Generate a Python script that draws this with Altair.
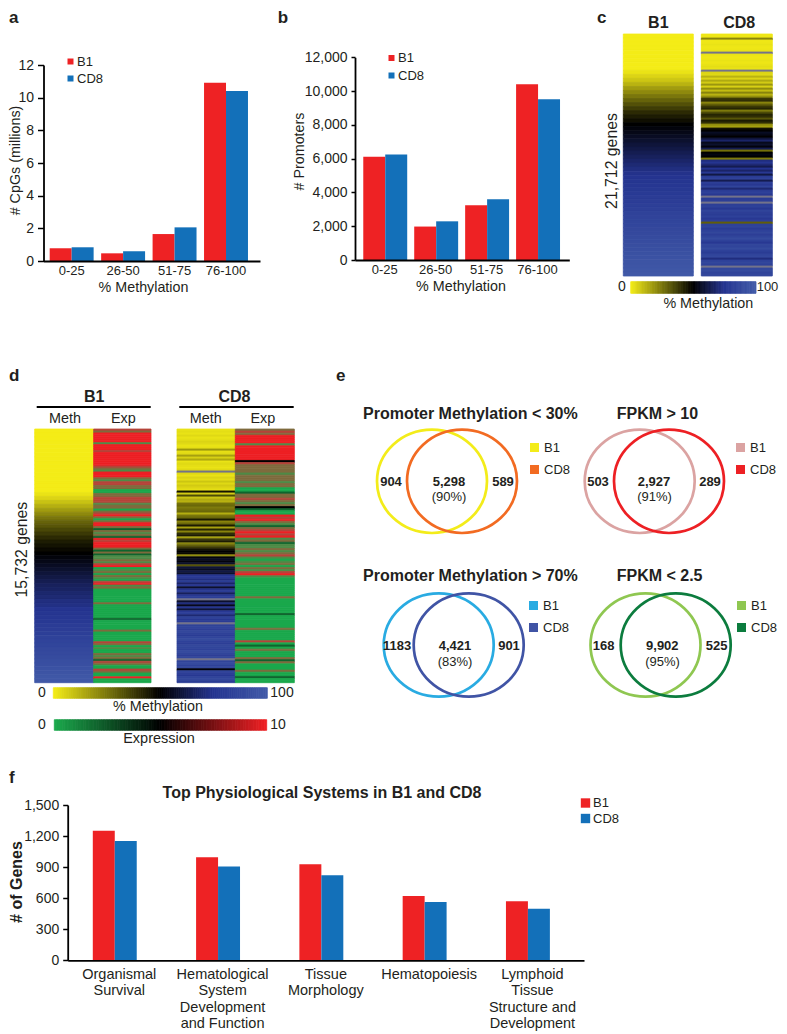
import altair as alt
import pandas as pd

W, H = 771, 1026
FONT = "Liberation Sans"
INK = "#231F20"
RED, BLUE = "#EE2224", "#1370B9"

# ---- panel a / b / f values
RANGES = ["0-25", "26-50", "51-75", "76-100"]
A_B1 = [0.78, 0.47, 1.65, 10.92]
A_CD8 = [0.84, 0.59, 2.06, 10.41]
B_B1 = [6107, 1980, 3240, 10400]
B_CD8 = [6250, 2290, 3590, 9520]
SYSTEMS = ["Organismal|Survival", "Hematological|System|Development|and Function",
           "Tissue|Morphology", "Hematopoiesis", "Lymphoid|Tissue|Structure and|Development"]
F_B1 = [1252, 995, 927, 621, 570]
F_CD8 = [1153, 905, 821, 563, 499]

# ---- heat strips (one value per row, top to bottom); 101 = a blurred grey row
C_B1 = [0]*9 + [2,5,8,12,17,21,25,29,33,37,41,44,47,50,
        52,54,56,58,60,62,64,66,68,70,72,74,75,
        76,77,78,79,80,81,82,83,84,85,86,87,88,89,90,91,92,93,94,95,96,97,98,99]
C_CD8 = [1,1,22,1,1,2,1,1,2, 101,2,1,1,2,1,2,3,2, 101,
         5,4,12,5,14,7,18,6,20,10,22,12,20,
         38,40,22,30,38,42,24,34,42,40,32,44,40,20,
         16,46,50,56,54,50,60,68,55,58,52,64,26,50,53,50,24,72,76,70,
         64,75,68,78,62,80,85,64,82,78,86,70,80,84,
         78,101,80,82,101,82,84,78,86,82,80,84,78,82,
         30,84,86,80,84,88,82,86,90,84,78,88,86,90,84,80,86,88,72,84,88,84,101,88,90,86,88]
D_B1_METH = [0]*16 + [2,5,9,13,17,21,25,29, 32,35,38,41,44,46,48,50,
             52,54,56,58,60,62,64,66,67,69,70,72,73,75,
             76,77,78,80,81,82,84,85,86,88,89,90,92,93,95,96,98,99]
D_CD8_METH = [2,3,2,4,2,3,5,4,2,3, 18,3,4,16,6,14,2,4,3,2,4, 101,
              4,2,5,3,8,4,7,5,3, 46,7,34,9,14,12,
              26,28,24,26,28,13,25,28,44,22,
              28,44,16,42,22, 40,44,16,38,44,22,30,38, 46,50,48,20,52,
              56,52,58,32,60,56,62,58,
              76,78,72,80,68,78,58,74,80,66,78,82, 101,58,72,55,76,60,
              78,82,70,84,78,80,101,
              84,86,82,88,84,80,86,90,84,82,88,86,84,90,86,82,88,101,
              86,90,84,88,52,86,82,78,86,88,80]
# expression codes: bright red/green, black, dark green, and blurred mixed rows
R, G, K, D, M, g, r = 10, 0, 5, 2, 11, 12, 13
D_B1_EXP = [r,M,R, R,R,R,R, g, R,R,R, r,R,R, R,R,R, R,R,r, M,g, R,R,R, M,g,r, r,M,M, G,G,
            M,M,r,r, r,g,M, M,G,M, r,R,M, G,M, R,R, M,D,
            M,g,M,D, R,r,R,R,R, M, D,M,D, g, g,M,g,r, R,
            G,g,M,G,M,g,G, r,R, g,M,G, G,G,G,G,G,G, M, G,G,G,G,G,G,G, D,
            G,G,G,G,G, M, G,G,G,G,G, r, M, G,g, G,G, M,g,M, D, r,M, G,G, r,M, G,G, R, G,G]
D_CD8_EXP = [M,r,M, R,R,R,R, g, R,R, R,R,R,R,R, K, r,M, M,M, M,g,M, M,M,g,M,M, G,G, D,
             M,M,r,M,g,M, K,D, G,G, R,r, R,
             M,g,D,M, r,R,r,R, g,M,D,g, g,M,g,M,r,g,
             G,g,M,G,M,g, r, R, g,G,G,
             G,G,G,G,G,G,G, M, G,G,G,G,G,G,G, D,
             G,G,G,G,G,G, M, G,G,G,G,G, r, G,D,G,M,G,G,G,M, D, M, G,G,G,M, G,G, D, G,G]
METH_RAMP = list(range(0, 101))
EXP_RAMP = [v / 8 for v in range(0, 81)]

# ---- venn text
VENNS = [
    dict(title="Promoter Methylation < 30%", tx=363, ty=414, cx=(432, 462), cy=481.3,
         c=("#F3EC1A", "#F26B22"), leg=(528, 441), nums=[("904", 391, 481.7), ("5,298", 449, 481.7), ("589", 503, 481.7)],
         pct=("(90%)", 449, 497)),
    dict(title="FPKM > 10", tx=616.7, ty=414, cx=(639.7, 669), cy=481.3,
         c=("#DBA3A2", "#ED2024"), leg=(734, 441), nums=[("503", 598, 481.7), ("2,927", 654, 481.7), ("289", 710, 481.7)],
         pct=("(91%)", 654.5, 497)),
    dict(title="Promoter Methylation > 70%", tx=363, ty=576, cx=(438.7, 468.7), cy=645,
         c=("#29ABE2", "#4054A5"), leg=(527, 599), nums=[("1183", 397, 645.7), ("4,421", 455, 645.7), ("901", 509, 645.7)],
         pct=("(83%)", 455, 661.7)),
    dict(title="FPKM < 2.5", tx=616.7, ty=576, cx=(645.5, 675.7), cy=645,
         c=("#8FC751", "#0C7C3E"), leg=(735, 599), nums=[("168", 603.7, 645.7), ("9,902", 662.3, 645.7), ("525", 716.7, 645.7)],
         pct=("(95%)", 662.5, 661.7)),
]

METH_SCALE = dict(domain=[0, 50, 75, 100, 101], range=["#F4EC17", "#000000", "#253490", "#415AA8", "#74748A"], interpolate="rgb")
EXP_SCALE = dict(domain=[0, 5, 10, 11, 12, 13],
                 range=["#1BA84C", "#000000", "#ED2024", "#7F6B3E", "#4F8B47", "#B5443A"], interpolate="rgb")
ONE = alt.Data(values=[{"a": 1}])


def text(s, x, y, size=14.3, weight="normal", align="center", angle=0):
    return alt.Chart(ONE).mark_text(font=FONT, fontSize=size, fontWeight=weight, align=align,
                                    baseline="middle", angle=angle, color=INK).encode(
        x=alt.value(x - 8), y=alt.value(y - 8), text=alt.value(s))


def legend(x, y, size, row, off):
    return alt.Legend(orient="none", legendX=x - 8, legendY=y - 8, title=None, symbolType="square",
                      symbolSize=size, symbolStrokeWidth=0, labelFont=FONT, labelFontSize=13, labelColor=INK,
                      rowPadding=row, padding=0, labelOffset=off)


def bars(cats, b1, cd8, x0, x1, y0, y1, ytop, ticks, fmt, pi, po, al, inner, leg,
         xsize, ysize, tick, xtitle=None, ytitle=None):
    df = pd.DataFrame({"cat": cats * 2, "series": ["B1"] * len(cats) + ["CD8"] * len(cats), "v": b1 + cd8})
    xaxis = alt.Axis(orient="bottom", offset=y0 - 8 - H, title=xtitle[0] if xtitle else None, grid=False,
                     ticks=False, domainColor="black", domainWidth=1.8, labelFont=FONT, labelFontSize=xsize,
                     labelColor=INK, labelAngle=0, labelPadding=xtitle[2] if xtitle else 7,
                     labelExpr="split(datum.label, '|')", labelLineHeight=16.5, labelBaseline="top",
                     titleFont=FONT, titleFontSize=14.3, titleFontWeight="normal", titleColor=INK,
                     titleX=xtitle[1] - 8 if xtitle else 0, titleY=26.5, titleBaseline="middle", zindex=1)
    yaxis = alt.Axis(orient="left", offset=-(x0 - 8), title=ytitle[0], grid=False, values=ticks, format=fmt,
                     tickSize=tick, tickColor="black", tickWidth=1.5, domainColor="black", domainWidth=1.8,
                     labelFont=FONT, labelFontSize=ysize, labelColor=INK, labelPadding=4,
                     titleFont=FONT, titleFontSize=ytitle[4], titleFontWeight=ytitle[3], titleColor=INK,
                     titleX=ytitle[1] - x0, titleY=ytitle[2] - 8, titleAngle=270,
                     titleAlign="center", titleBaseline="middle", zindex=1)
    return alt.Chart(df).mark_bar().encode(
        x=alt.X("cat:N", sort=cats, axis=xaxis,
                scale=alt.Scale(domain=cats, range=[x0 - 8, x1 - 8], paddingInner=pi, paddingOuter=po, align=al)),
        xOffset=alt.XOffset("series:N", sort=["B1", "CD8"],
                            scale=alt.Scale(domain=["B1", "CD8"], paddingInner=inner, paddingOuter=0)),
        y=alt.Y("v:Q", axis=yaxis, scale=alt.Scale(domain=[0, ytop], range=[y0 - 8, y1 - 8], nice=False)),
        color=alt.Color("series:N", scale=alt.Scale(domain=["B1", "CD8"], range=[RED, BLUE]), legend=leg),
    )


def strip(values, x0, x1, y0, y1, scale, name, horizontal=False):
    df = pd.DataFrame({"row": list(range(len(values))), "value": values, "strip": name})
    dom = list(range(len(values)))
    rows = dict(type="band", domain=dom, paddingInner=0, paddingOuter=0)
    one = dict(type="band", domain=[name], paddingInner=0, paddingOuter=0)
    if horizontal:
        xe = alt.X("row:O", axis=None, scale=alt.Scale(range=[x0 - 8, x1 - 8], **rows))
        ye = alt.Y("strip:N", axis=None, scale=alt.Scale(range=[y0 - 8, y1 - 8], **one))
    else:
        xe = alt.X("strip:N", axis=None, scale=alt.Scale(range=[x0 - 8, x1 - 8], **one))
        ye = alt.Y("row:O", axis=None, scale=alt.Scale(range=[y0 - 8, y1 - 8], **rows))
    return alt.Chart(df).mark_rect(strokeWidth=0.8).encode(
        x=xe, y=ye,
        color=alt.Color("value:Q", scale=alt.Scale(**scale), legend=None),
        stroke=alt.Stroke("value:Q", scale=alt.Scale(**scale), legend=None),
    )


def venn(v):
    df = pd.DataFrame({"set": ["B1", "CD8"]})
    leg = alt.Legend(orient="none", legendX=v["leg"][0] - 8, legendY=v["leg"][1] - 8, title=None, symbolType="square",
                     symbolSize=4, symbolStrokeWidth=7, labelFont=FONT, labelFontSize=13, labelColor=INK,
                     rowPadding=-18, padding=0, labelOffset=3)
    # elliptical ring drawn as a custom symbol
    path = "M-1,0A1,0.94,0,1,1,1,0A1,0.94,0,1,1,-1,0Z"
    ring = alt.Chart(df).mark_point(shape=path, size=12100, strokeWidth=2.7, filled=False, opacity=1).encode(
        x=alt.X("set:N", axis=None, scale=alt.Scale(type="point", domain=["B1", "CD8"],
                                                     range=[v["cx"][0] - 8, v["cx"][1] - 8], padding=0)),
        y=alt.value(v["cy"] - 8),
        color=alt.Color("set:N", scale=alt.Scale(domain=["B1", "CD8"], range=list(v["c"])), legend=leg),
    )
    out = [ring, text(v["title"], v["tx"], v["ty"], 16, "bold", "left")]
    out += [text(n, x, y, 13, "bold") for n, x, y in v["nums"]]
    out.append(text(v["pct"][0], v["pct"][1], v["pct"][2], 13))
    return out


layers = []
# panel a
layers.append(bars(RANGES, A_B1, A_CD8, 43.5, 260, 261, 65, 12, [0, 2, 4, 6, 8, 10, 12], "d",
                   0.146, 0.177, 0.34, 0, legend(64, 55, 36, 3, 0), 13, 14,
                   6, ("% Methylation", 143, 3), ("# CpGs (millions)", 15.5, 160, "normal", 14.3)))
# panel b
layers.append(bars(RANGES, B_B1, B_CD8, 355, 569.3, 260, 57.3, 12000, [0, 2000, 4000, 6000, 8000, 10000, 12000], ",d",
                   0.157, 0.182, 0.446, 0, legend(385, 51.5, 36, 3.5, 0), 13, 14,
                   4, ("% Methylation", 460.5, 3), ("# Promoters", 299.5, 151, "normal", 14.3)))
# panel c
layers += [strip(C_B1, 623.3, 693.3, 34, 276, METH_SCALE, "B1"),
           strip(C_CD8, 701.3, 772.3, 34, 276, METH_SCALE, "CD8"),
           strip(METH_RAMP, 630.7, 756, 281.7, 293.3, METH_SCALE, "bar", True)]
# panel d
layers += [strip(D_B1_METH, 34.7, 93.7, 429, 682.7, METH_SCALE, "B1"),
           strip(D_B1_EXP, 93.7, 151, 429, 682.7, EXP_SCALE, "B1e"),
           strip(D_CD8_METH, 177, 235.3, 429, 682.7, METH_SCALE, "CD8"),
           strip(D_CD8_EXP, 235.3, 294.3, 429, 682.7, EXP_SCALE, "CD8e"),
           strip(METH_RAMP, 53.3, 267.3, 687.7, 698.3, METH_SCALE, "bar", True),
           strip(EXP_RAMP, 54.3, 266.7, 719.7, 730.3, EXP_SCALE, "bar", True)]
# header rules of panel d
for lab, a, b in [("B1", 36.7, 150.7), ("CD8", 179.3, 293.7)]:
    layers.append(alt.Chart(pd.DataFrame({"g": [lab]})).mark_rule(color="black", strokeWidth=2).encode(
        x=alt.value(a - 8), x2=alt.value(b - 8), y=alt.value(407 - 8)))
# panel e
for v in VENNS:
    layers += venn(v)
# panel f
layers.append(bars(SYSTEMS, F_B1, F_CD8, 67.7, 584, 960.3, 805, 1500, [0, 300, 600, 900, 1200, 1500], ",d",
                   0.4874, 0.243, 0.5, 0.2, legend(579, 796.5, 88, 1.5, 1), 14.5, 14,
                   5, None, ("# of Genes", 17, 881.5, "bold", 16)))

for s, x, y in [("a", 9, 18), ("b", 277.7, 18), ("c", 597, 18), ("d", 9, 376), ("e", 336, 376), ("f", 9, 778)]:
    layers.append(text(s, x, y, 17, "bold", "left"))
layers += [
    text("B1", 658.3, 23.3, 16, "bold"), text("CD8", 739.2, 23.3, 16, "bold"),
    text("21,712 genes", 611.7, 161, 15.8, angle=270),
    text("0", 622, 287.3, 14), text("100", 767.5, 287.3, 13), text("% Methylation", 708.3, 304),
    text("B1", 94.2, 396.7, 16, "bold"), text("CD8", 234.5, 396.7, 16, "bold"),
    text("Meth", 65, 419.3, 14.4), text("Exp", 123.3, 419.3, 14.4),
    text("Meth", 205.8, 419.3, 14.4), text("Exp", 262.8, 419.3, 14.4),
    text("15,732 genes", 21.5, 549.7, 15.8, angle=270),
    text("0", 42, 692.7, 14), text("100", 282, 692.7, 14), text("% Methylation", 158, 707.3),
    text("0", 42, 725, 14), text("10", 278, 725, 14), text("Expression", 159, 739.3, 14.5),
    text("Top Physiological Systems in B1 and CD8", 322, 793.3, 16, "bold"),
]

chart = alt.layer(*layers).resolve_scale(
    x="independent", y="independent", color="independent", stroke="independent").properties(
    width=W, height=H, padding=0, autosize=alt.AutoSizeParams(type="none")).configure_view(strokeWidth=0)

chart.save("out.html", embed_options={"renderer": "svg", "actions": False})
